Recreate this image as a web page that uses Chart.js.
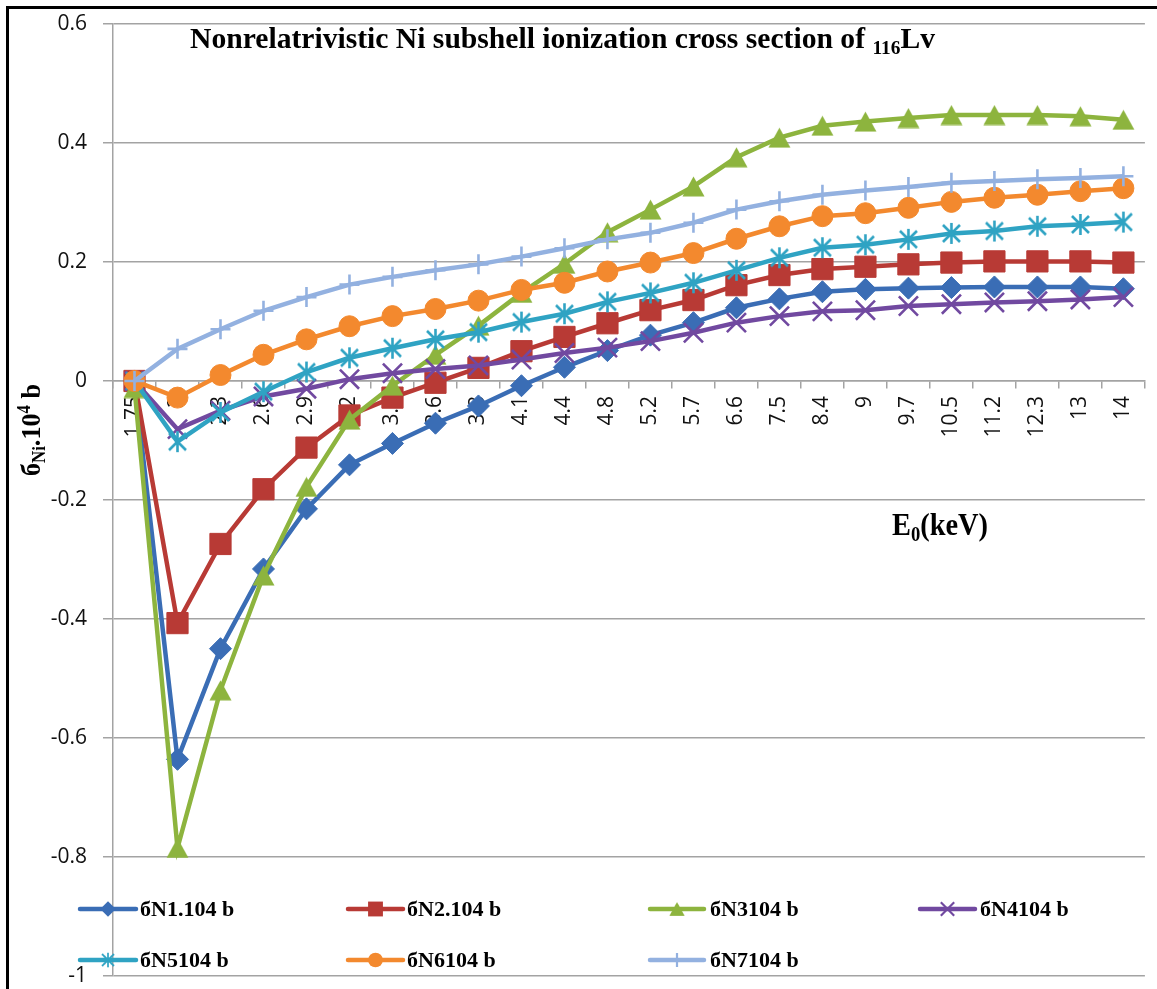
<!DOCTYPE html>
<html>
<head>
<meta charset="utf-8">
<script src="https://cdn.jsdelivr.net/npm/chart.js@4/dist/chart.umd.min.js"></script>
<style>
  html, body { margin: 0; padding: 0; background: #fff; overflow: hidden; width: 1157px; height: 989px; }
  #wrap { position: absolute; left: 0; top: 0; width: 1161px; height: 992px; }
</style>
</head>
<body>
<div id="wrap"><canvas id="chart" width="1161" height="992"></canvas></div>
<script>
// Incident electron energy E0 (keV), one category per computed point
const energies = ['1.75', '2', '2.3', '2.6', '2.9', '3.2', '3.4', '3.6', '3.8', '4.1', '4.4', '4.8',
                  '5.2', '5.7', '6.6', '7.5', '8.4', '9', '9.7', '10.5', '11.2', '12.3', '13', '14'];

// Nonrelativistic Ni subshell ionization cross sections (10^4 b)
const sigmaN1 = [0, -0.636, -0.450, -0.316, -0.215, -0.141, -0.105, -0.071, -0.042, -0.008, 0.023, 0.051,
                 0.077, 0.098, 0.123, 0.138, 0.150, 0.154, 0.156, 0.157, 0.158, 0.158, 0.158, 0.155];
const sigmaN2 = [0, -0.407, -0.274, -0.182, -0.112, -0.058, -0.028, -0.003, 0.022, 0.050, 0.074, 0.097,
                 0.119, 0.136, 0.161, 0.178, 0.188, 0.192, 0.196, 0.199, 0.201, 0.201, 0.201, 0.199];
const sigmaN3 = [-0.012, -0.785, -0.520, -0.327, -0.178, -0.065, -0.008, 0.044, 0.093, 0.148, 0.197, 0.250,
                 0.288, 0.327, 0.376, 0.409, 0.429, 0.436, 0.442, 0.447, 0.447, 0.447, 0.445, 0.439];
const sigmaN4 = [0, -0.081, -0.050, -0.026, -0.013, 0.003, 0.013, 0.020, 0.026, 0.036, 0.047, 0.056,
                 0.067, 0.081, 0.098, 0.109, 0.117, 0.119, 0.126, 0.129, 0.132, 0.134, 0.137, 0.141];
const sigmaN5 = [0, -0.102, -0.053, -0.018, 0.015, 0.039, 0.055, 0.070, 0.082, 0.099, 0.113, 0.133,
                 0.148, 0.165, 0.186, 0.207, 0.224, 0.229, 0.238, 0.248, 0.252, 0.260, 0.263, 0.267];
const sigmaN6 = [0, -0.028, 0.010, 0.044, 0.070, 0.092, 0.109, 0.121, 0.135, 0.153, 0.165, 0.184,
                 0.199, 0.215, 0.239, 0.260, 0.277, 0.282, 0.291, 0.301, 0.308, 0.313, 0.319, 0.324];
const sigmaN7 = [0, 0.054, 0.087, 0.118, 0.141, 0.162, 0.175, 0.186, 0.196, 0.209, 0.223, 0.238,
                 0.249, 0.266, 0.288, 0.302, 0.313, 0.320, 0.326, 0.333, 0.336, 0.339, 0.341, 0.344];

const seriesNames = ['бN1.104 b', 'бN2.104 b', 'бN3104 b', 'бN4104 b', 'бN5104 b', 'бN6104 b', 'бN7104 b'];
const seriesValues = [sigmaN1, sigmaN2, sigmaN3, sigmaN4, sigmaN5, sigmaN6, sigmaN7];

// value axis range and tick step
const yMin = -1, yMax = 0.6, yStep = 0.2;

// ---- marker sprites (upright triangle and asterisk) ----
function triangleSprite(color, w, h) {
  const c = document.createElement('canvas');
  c.width = w; c.height = h;
  const g = c.getContext('2d');
  g.fillStyle = color;
  g.beginPath();
  g.moveTo(w / 2, 0.5);
  g.lineTo(w - 0.5, h - 0.5);
  g.lineTo(0.5, h - 0.5);
  g.closePath();
  g.fill();
  return c;
}
function asteriskSprite(color, s, lw) {
  const c = document.createElement('canvas');
  c.width = s; c.height = s;
  const g = c.getContext('2d');
  g.strokeStyle = color;
  g.lineWidth = lw;
  const m = 3, h = s / 2;
  g.beginPath();
  g.moveTo(m, m); g.lineTo(s - m, s - m);
  g.moveTo(s - m, m); g.lineTo(m, s - m);
  g.moveTo(h, 1); g.lineTo(h, s - 1);
  g.stroke();
  return c;
}

const colors = ['#3A6DB5', '#B83A35', '#8DB43E', '#7149A0', '#2FA3C3', '#F3892E', '#93B1E0'];
const markers = [
  { style: 'rectRot', r: 11, bw: 1 },
  { style: 'rect', r: 15, bw: 1 },
  { style: triangleSprite(colors[2], 23, 21), r: 11, bw: 1 },
  { style: 'crossRot', r: 13.5, bw: 2.6 },
  { style: asteriskSprite(colors[4], 23, 2.6), r: 11, bw: 1 },
  { style: 'circle', r: 10.5, bw: 1 },
  { style: 'cross', r: 10, bw: 2.6 }
];

const datasets = seriesValues.map((vals, i) => ({
  label: seriesNames[i],
  data: vals,
  borderColor: colors[i],
  backgroundColor: colors[i],
  borderWidth: 4.5,
  tension: 0,
  fill: false,
  pointStyle: markers[i].style,
  pointRadius: markers[i].r,
  pointBorderWidth: markers[i].bw,
  pointBackgroundColor: colors[i],
  pointBorderColor: colors[i],
  order: seriesValues.length - 1 - i
}));

// ---- text with sub/superscripts, fitted to a target width ----
function richText(ctx, parts, x, y, targetW) {
  let total = 0;
  parts.forEach(p => { ctx.font = p.font; p.w = ctx.measureText(p.t).width; total += p.w; });
  const s = targetW ? targetW / total : 1;
  ctx.save();
  ctx.translate(x, y);
  ctx.scale(s, 1);
  ctx.textAlign = 'left';
  ctx.textBaseline = 'alphabetic';
  let cx = 0;
  parts.forEach(p => { ctx.font = p.font; ctx.fillText(p.t, cx, p.dy || 0); cx += p.w; });
  ctx.restore();
}

function legendMarker(ctx, i, x, y) {
  const c = colors[i];
  const m = markers[i];
  ctx.save();
  ctx.fillStyle = c; ctx.strokeStyle = c;
  if (typeof m.style !== 'string') {
    const w = m.style.width * 0.7, h = m.style.height * 0.7;
    ctx.drawImage(m.style, x - w / 2, y - h / 2, w, h);
  } else {
    ctx.beginPath();
    const r = m.r * 0.7;
    if (m.style === 'rectRot') {
      ctx.moveTo(x, y - r); ctx.lineTo(x + r, y); ctx.lineTo(x, y + r); ctx.lineTo(x - r, y); ctx.closePath(); ctx.fill();
    } else if (m.style === 'rect') {
      const h = r * Math.SQRT1_2; ctx.rect(x - h, y - h, 2 * h, 2 * h); ctx.fill();
    } else if (m.style === 'circle') {
      ctx.arc(x, y, r, 0, Math.PI * 2); ctx.fill();
    } else if (m.style === 'crossRot') {
      const h = r * Math.SQRT1_2; ctx.lineWidth = 2.2;
      ctx.moveTo(x - h, y - h); ctx.lineTo(x + h, y + h); ctx.moveTo(x + h, y - h); ctx.lineTo(x - h, y + h); ctx.stroke();
    } else if (m.style === 'cross') {
      ctx.lineWidth = 2.2;
      ctx.moveTo(x, y - r); ctx.lineTo(x, y + r); ctx.moveTo(x - r, y); ctx.lineTo(x + r, y); ctx.stroke();
    }
  }
  ctx.restore();
}

const serif = '"Liberation Serif", "Times New Roman", serif';

const decorations = {
  id: 'decorations',
  afterDraw(chart) {
    const ctx = chart.ctx;
    ctx.save();
    // outer frame
    ctx.strokeStyle = '#000';
    ctx.lineWidth = 3;
    ctx.beginPath();
    ctx.moveTo(7.5, 1200); ctx.lineTo(7.5, 7.5); ctx.lineTo(1200, 7.5);
    ctx.stroke();

    ctx.fillStyle = '#000';
    // chart title
    richText(ctx, [
      { t: 'Nonrelatrivistic Ni subshell ionization cross section of ', font: 'bold 29px ' + serif },
      { t: '116', font: 'bold 19px ' + serif, dy: 6 },
      { t: 'Lv', font: 'bold 29px ' + serif }
    ], 190, 48, 745);

    // x axis title
    richText(ctx, [
      { t: 'E', font: 'bold 32px ' + serif },
      { t: '0', font: 'bold 21px ' + serif, dy: 6 },
      { t: '(keV)', font: 'bold 32px ' + serif }
    ], 892, 535, 96);

    // y axis title (rotated)
    ctx.save();
    ctx.translate(40, 476);
    ctx.rotate(-Math.PI / 2);
    richText(ctx, [
      { t: 'б', font: 'bold 28px ' + serif },
      { t: 'Ni', font: 'bold 18px ' + serif, dy: 5 },
      { t: '.10', font: 'bold 28px ' + serif },
      { t: '4', font: 'bold 18px ' + serif, dy: -10 },
      { t: ' b', font: 'bold 28px ' + serif }
    ], 0, 0, 92);
    ctx.restore();

    // legend: two rows, four columns
    const cols = [[80, 136, 140], [348, 403, 407], [650, 704, 710], [920, 975, 980]];
    const rows = [909, 960];
    seriesNames.forEach((name, i) => {
      const [x1, x2, tx] = cols[i % 4];
      const y = rows[Math.floor(i / 4)];
      ctx.save();
      ctx.strokeStyle = colors[i];
      ctx.lineWidth = 4.5;
      ctx.lineCap = 'round';
      ctx.beginPath(); ctx.moveTo(x1, y); ctx.lineTo(x2, y); ctx.stroke();
      ctx.restore();
      legendMarker(ctx, i, (x1 + x2) / 2, y);
      ctx.font = 'bold 22px ' + serif;
      ctx.fillStyle = '#000';
      ctx.textBaseline = 'middle';
      ctx.textAlign = 'left';
      ctx.fillText(name, tx, y + 1);
    });
    ctx.restore();
  }
};

const tickFont = { family: '"Open Sans", "DejaVu Sans", sans-serif', size: 21 };
const axisGray = '#a3a3a3';

new Chart(document.getElementById('chart'), {
  type: 'line',
  data: { labels: energies, datasets },
  options: {
    responsive: false,
    animation: false,
    devicePixelRatio: 1,
    layout: { padding: { left: 0, top: 24, right: 0, bottom: 14 } },
    plugins: {
      legend: { display: false },
      title: { display: false },
      tooltip: { enabled: false }
    },
    scales: {
      x: {
        type: 'category',
        offset: true,
        position: { y: 0 },
        grid: { offset: true, drawOnChartArea: false, drawTicks: true, tickLength: 7, color: axisGray, lineWidth: 1.5 },
        border: { display: true, color: axisGray, width: 1.5 },
        ticks: { minRotation: 90, maxRotation: 90, autoSkip: false, padding: 8, color: '#111', font: tickFont }
      },
      y: {
        min: yMin,
        max: yMax,
        afterFit(scale) {
          scale.width = 113;
          scale.paddingTop = 0;
          scale.paddingBottom = 0;
        },
        grid: { color: axisGray, lineWidth: 1.5, drawTicks: true, tickLength: 10 },
        border: { display: true, color: axisGray, width: 1.5 },
        ticks: {
          stepSize: yStep,
          padding: 16,
          color: '#111',
          font: tickFont,
          callback: v => String(Math.round(v * 10) / 10)
        }
      }
    }
  },
  plugins: [decorations]
});
</script>
</body>
</html>
